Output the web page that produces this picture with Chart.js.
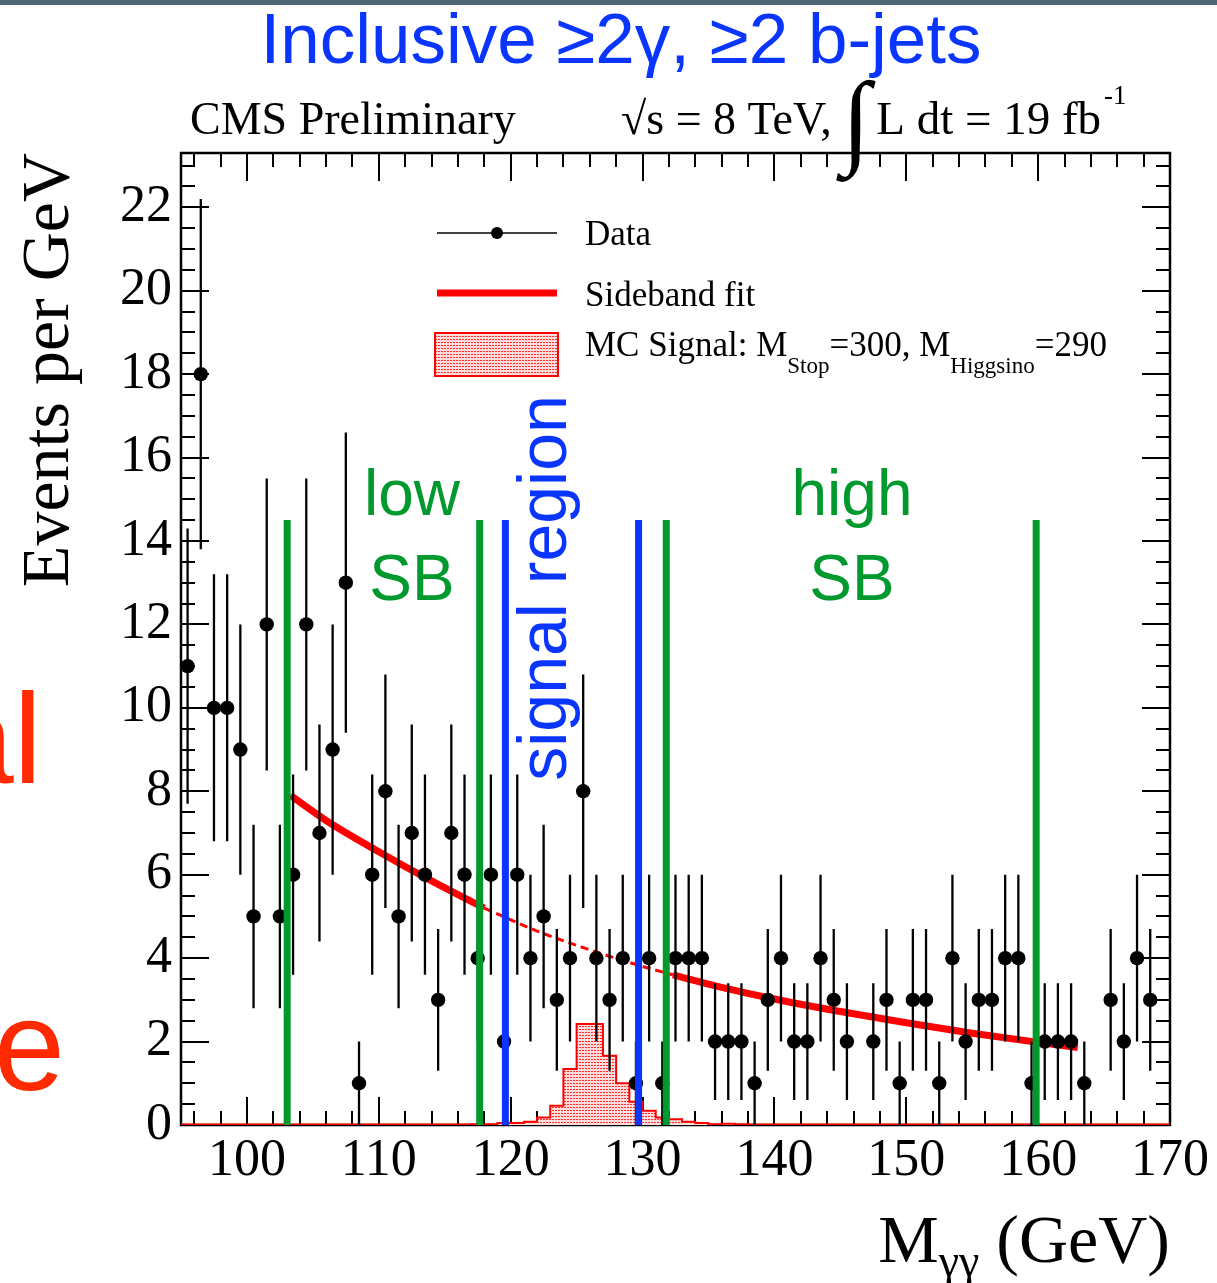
<!DOCTYPE html>
<html>
<head>
<meta charset="utf-8">
<script src="https://cdn.jsdelivr.net/npm/chart.js"></script>
<style>
html,body{margin:0;padding:0;background:#fff}
canvas{display:block}
</style>
</head>
<body>
<canvas id="massChart" width="1217" height="1283"></canvas>
<script>
// diphoton mass bins (GeV centres), events per GeV and their error bars
const massBins=[95.5,96.5,97.5,98.5,99.5,100.5,101.5,102.5,103.5,104.5,105.5,106.5,107.5,108.5,109.5,
110.5,111.5,112.5,113.5,114.5,115.5,116.5,117.5,118.5,119.5,120.5,121.5,122.5,123.5,124.5,
125.5,126.5,127.5,128.5,129.5,130.5,131.5,132.5,133.5,134.5,135.5,136.5,137.5,138.5,139.5,
140.5,141.5,142.5,143.5,144.5,145.5,146.5,147.5,148.5,149.5,150.5,151.5,152.5,153.5,154.5,
155.5,156.5,157.5,158.5,159.5,160.5,161.5,162.5,163.5,164.5,165.5,166.5,167.5,168.5,169.5]
const eventCounts=[11,18,10,10,9,5,12,5,6,12,7,9,13,1,6,
8,5,7,6,3,7,6,4,6,2,6,4,5,3,4,
8,4,3,4,1,4,1,4,4,4,2,2,2,1,3,
4,2,2,4,3,2,0,2,3,1,3,3,1,4,2,
3,3,4,4,1,2,2,2,1,0,3,2,4,3,0]
const eventErrors=[3.3,4.2,3.2,3.2,3,2.2,3.5,2.2,2.4,3.5,2.6,3,3.6,1,2.4,
2.8,2.2,2.6,2.4,1.7,2.6,2.4,2,2.4,1.4,2.4,2,2.2,1.7,2,
2.8,2,1.7,2,1,2,1,2,2,2,1.4,1.4,1.4,1,1.7,
2,1.4,1.4,2,1.7,1.4,0,1.4,1.7,1,1.7,1.7,1,2,1.4,
1.7,1.7,2,2,1,1.4,1.4,1.4,1,0,1.7,1.4,2,1.7,0]

// sideband fit
const fitMass=[103.3,106,110,114,118,122,126,130,132.3,136,140,145,150,155,160,163]
const fitValue=[7.9,7.3,6.55,5.85,5.2,4.65,4.2,3.8,3.6,3.3,3.02,2.72,2.45,2.2,1.98,1.86]
const fitDashFrom=118
const fitDashTo=132.3

// MC signal histogram (bin edges, content)
const signalEdges=[95,110,116,117,118,119,120,121,122,123,124,125,126,127,128,129,130,131,132,133,134,135,136,137,138,140,150,160,170]
const signalValues=[0.01,0.01,0.01,0.02,0.02,0.05,0.05,0.08,0.18,0.46,1.34,2.42,2.42,1.66,1,0.56,0.34,0.18,0.14,0.08,0.05,0.02,0.03,0.02,0.01,0.01,0.01,0.01]

// sideband / signal window boundaries
const regionEdges=[103.05,117.65,119.6,129.7,131.8,159.85]
const regionKinds=["sb","sb","sig","sig","sb","sb"]
const regionTop=14.5

const xTicks=[100,110,120,130,140,150,160,170]
const yTicks=[0,2,4,6,8,10,12,14,16,18,20,22]

const GREEN="#00992e"
const BLUE="#0a35ff"
const RED="#ff0000"
const SERIF="'Liberation Serif'"
const SANS="'Liberation Sans'"

// red dotted fill used by ROOT for the signal histogram
function dotPattern(){
const c=document.createElement("canvas")
c.width=3
c.height=3
const g=c.getContext("2d")
g.fillStyle="#ffdcdc"
g.fillRect(0,0,3,3)
g.fillStyle="#ff2a2a"
g.fillRect(0,0,2,1)
return g.createPattern(c,"repeat")
}
const signalFill=dotPattern()

const dataPoints=[]
massBins.forEach((m,i)=>{
if(eventCounts[i]>0) dataPoints.push({x:m,y:eventCounts[i]})
})

const fitPoints=fitMass.map((m,i)=>({x:m,y:fitValue[i]}))
const fitLow=fitPoints.filter(p=>p.x<=fitDashFrom)
const fitMid=fitPoints.filter(p=>p.x>=fitDashFrom && p.x<=fitDashTo)
const fitHigh=fitPoints.filter(p=>p.x>=fitDashTo)

const signalPoints=signalEdges.map((e,i)=>({x:e,y:signalValues[Math.min(i,signalValues.length-1)]}))

const datasets=[]

datasets.push({
label:"MC Signal",
data:signalPoints,
stepped:"before",
borderColor:RED,
borderWidth:2,
backgroundColor:signalFill,
fill:"origin",
pointRadius:0,
order:6
})

function fitSet(pts,dashed){
return {
label:"Sideband fit",
data:pts,
borderColor:RED,
borderWidth:dashed?3:7,
borderDash:dashed?[8,5]:[],
cubicInterpolationMode:"monotone",
pointRadius:0,
fill:false,
order:4
}
}
datasets.push(fitSet(fitLow,false))
datasets.push(fitSet(fitMid,true))
datasets.push(fitSet(fitHigh,false))

datasets.push({
label:"Data",
data:dataPoints,
showLine:false,
pointRadius:7.2,
pointBackgroundColor:"#000",
pointBorderWidth:0,
order:2
})

regionEdges.forEach((m,i)=>{
datasets.push({
label:"edge",
data:[{x:m,y:0},{x:m,y:regionTop}],
borderColor:regionKinds[i]==="sig"?BLUE:GREEN,
borderWidth:7,
borderCapStyle:"butt",
pointRadius:0,
fill:false,
order:0
})
})

function text(ctx,str,x,y,font,color,align){
ctx.font=font
ctx.fillStyle=color||"#000"
ctx.textAlign=align||"left"
ctx.textBaseline="alphabetic"
ctx.fillText(str,x,y)
return ctx.measureText(str).width
}

const decor={
id:"decor",
beforeDraw(chart){
const ctx=chart.ctx
ctx.save()
ctx.fillStyle="#fff"
ctx.fillRect(0,0,chart.width,chart.height)
ctx.fillStyle="#4e6676"
ctx.fillRect(0,0,chart.width,5)
ctx.restore()
},
beforeDatasetsDraw(chart){
// frame with inside ticks on all four sides
const ctx=chart.ctx
const a=chart.chartArea
const xs=chart.scales.x
const ys=chart.scales.y
ctx.save()
ctx.strokeStyle="#000"
ctx.lineWidth=2.5
ctx.strokeRect(a.left,a.top,a.right-a.left,a.bottom-a.top)
ctx.lineWidth=2
ctx.beginPath()
for(let v=96;v<=170;v+=2){
const px=Math.round(xs.getPixelForValue(v))
const len=v%10===0?28:14
ctx.moveTo(px,a.bottom);ctx.lineTo(px,a.bottom-len)
ctx.moveTo(px,a.top);ctx.lineTo(px,a.top+len)
}
for(let k=1;k<=46;k++){
const v=k*0.5
const py=Math.round(ys.getPixelForValue(v))
const len=v%2===0?28:14
ctx.moveTo(a.left,py);ctx.lineTo(a.left+len,py)
ctx.moveTo(a.right,py);ctx.lineTo(a.right-len,py)
}
ctx.stroke()
ctx.restore()
},
beforeDatasetDraw(chart,args){
if(chart.data.datasets[args.index].label!=="Data") return
const ctx=chart.ctx
const xs=chart.scales.x
const ys=chart.scales.y
ctx.save()
ctx.strokeStyle="#000"
ctx.lineWidth=2.3
ctx.beginPath()
massBins.forEach((m,i)=>{
if(eventCounts[i]<=0) return
const px=xs.getPixelForValue(m)
ctx.moveTo(px,ys.getPixelForValue(Math.max(0,eventCounts[i]-eventErrors[i])))
ctx.lineTo(px,ys.getPixelForValue(eventCounts[i]+eventErrors[i]))
})
ctx.stroke()
ctx.restore()
},
afterDraw(chart){
const ctx=chart.ctx
ctx.save()

// slide title
text(ctx,"Inclusive \u22652\u03b3, \u22652 b-jets",621,63,"71px "+SANS,BLUE,"center")

// CMS label and luminosity
text(ctx,"CMS Preliminary",190,134,"46px "+SERIF,"#000")
let x=621
x+=text(ctx,"\u221as = 8 TeV,",x,134,"46px "+SERIF,"#000")
x+=10
x+=text(ctx,"\u222b",x,154,"bold 104px "+SERIF,"#000")
x+=6
x+=text(ctx,"L dt = 19 fb",x,134,"47px "+SERIF,"#000")
text(ctx,"-1",x+3,104,"27px "+SERIF,"#000")

// axis titles
ctx.save()
ctx.translate(68,370)
ctx.rotate(-Math.PI/2)
text(ctx,"Events per GeV",0,0,"68px "+SERIF,"#000","center")
ctx.restore()
ctx.font="68px "+SERIF
const w1=ctx.measureText("M").width
const w3=ctx.measureText(" (GeV)").width
ctx.font="46px "+SERIF
const w2=ctx.measureText("\u03b3\u03b3").width
const sx=1170-w1-w2-w3
text(ctx,"M",sx,1262,"68px "+SERIF,"#000")
text(ctx,"\u03b3\u03b3",sx+w1,1276,"46px "+SERIF,"#000")
text(ctx," (GeV)",sx+w1+w2,1262,"68px "+SERIF,"#000")

// legend
ctx.strokeStyle="#000"
ctx.lineWidth=1.5
ctx.beginPath();ctx.moveTo(437,233);ctx.lineTo(557,233);ctx.stroke()
ctx.fillStyle="#000"
ctx.beginPath();ctx.arc(497,233,6,0,Math.PI*2);ctx.fill()
text(ctx,"Data",585,245,"35px "+SERIF,"#000")
ctx.strokeStyle=RED
ctx.lineWidth=7
ctx.beginPath();ctx.moveTo(437,293);ctx.lineTo(557,293);ctx.stroke()
text(ctx,"Sideband fit",585,306,"35px "+SERIF,"#000")
ctx.fillStyle=signalFill
ctx.fillRect(435,333,123,43)
ctx.strokeStyle=RED
ctx.lineWidth=2
ctx.strokeRect(435,333,123,43)
let lx=585
lx+=text(ctx,"MC Signal: M",lx,356,"35px "+SERIF,"#000")
lx+=text(ctx,"Stop",lx,373,"23px "+SERIF,"#000")
lx+=text(ctx,"=300, M",lx,356,"35px "+SERIF,"#000")
lx+=text(ctx,"Higgsino",lx,373,"23px "+SERIF,"#000")
text(ctx,"=290",lx,356,"35px "+SERIF,"#000")

// region annotations
text(ctx,"low",412,515,"64px "+SANS,GREEN,"center")
text(ctx,"SB",412,600,"64px "+SANS,GREEN,"center")
text(ctx,"high",852,515,"64px "+SANS,GREEN,"center")
text(ctx,"SB",852,600,"64px "+SANS,GREEN,"center")
ctx.save()
ctx.translate(566,588)
ctx.rotate(-Math.PI/2)
text(ctx,"signal region",0,0,"68px "+SANS,BLUE,"center")
ctx.restore()

// text cut off from the neighbouring slide
text(ctx,"al",42,783,"128px "+SANS,"#ff2a00","right")
text(ctx,"e",65,1090,"128px "+SANS,"#ff2a00","right")

ctx.restore()
}
}

const tickFont={family:SERIF,size:52}

new Chart(document.getElementById("massChart"),{
type:"line",
data:{datasets:datasets},
options:{
responsive:false,
devicePixelRatio:1,
animation:false,
layout:{padding:{top:153,right:47,left:0,bottom:0}},
plugins:{legend:{display:false},tooltip:{enabled:false}},
scales:{
x:{
type:"linear",
min:95,
max:170,
afterBuildTicks:s=>{s.ticks=xTicks.map(v=>({value:v}))},
afterFit:s=>{s.height=158},
grid:{display:false,drawTicks:false},
border:{display:false},
ticks:{font:tickFont,color:"#000",padding:5,maxRotation:0,autoSkip:false}
},
y:{
type:"linear",
min:0,
max:23.3,
afterBuildTicks:s=>{s.ticks=yTicks.map(v=>({value:v}))},
afterFit:s=>{s.width=181},
grid:{display:false,drawTicks:false},
border:{display:false},
ticks:{font:tickFont,color:"#000",padding:9,autoSkip:false}
}
}
},
plugins:[decor]
})
</script>
</body>
</html>
